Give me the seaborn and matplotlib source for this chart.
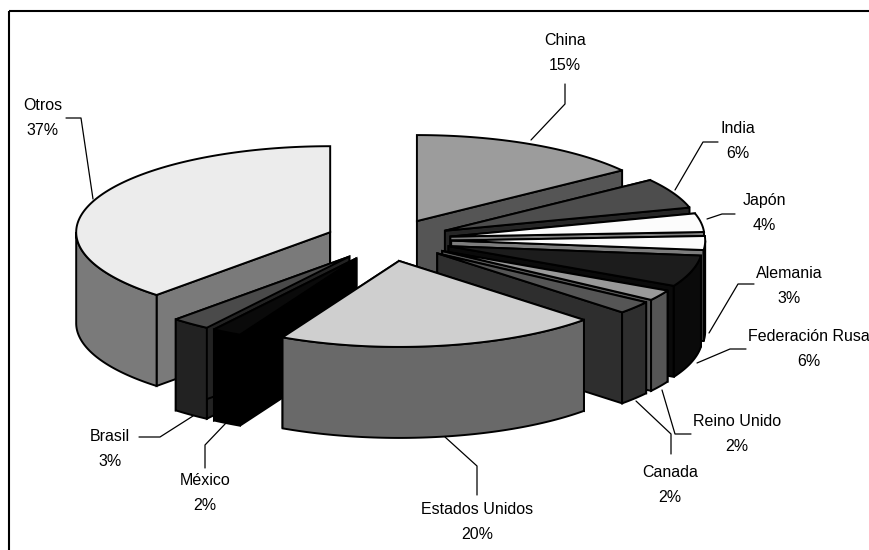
import numpy as np
import matplotlib
matplotlib.use("Agg")
import matplotlib.pyplot as plt
from matplotlib.patches import Polygon, Rectangle
import seaborn as sns

# data (clockwise from the top)
countries = ["China", "India", "Japón", "Alemania", "Federación Rusa", "Reino Unido",
             "Canada", "Estados Unidos", "México", "Brasil", "Otros"]
# percentages printed on the chart
percent_labels = [15, 6, 4, 3, 6, 2, 2, 20, 2, 3, 37]
# wedge sizes (the 3-D view skews them slightly)
wedge_shares = [15.0, 5.7, 3.5, 2.6, 5.9, 2.0, 2.4, 20.6, 1.9, 2.5, 38.1]

# styles
top_colors = ["#9c9c9c", "#4d4d4d", "#fcfcfc", "#fcfcfc", "#1c1c1c", "#999999",
              "#555555", "#cfcfcf", "#0a0a0a", "#4a4a4a", "#ececec"]
wall_colors = ["#555555", "#262626", "#7d7d7d", "#7d7d7d", "#0a0a0a", "#555555",
               "#2e2e2e", "#696969", "#000000", "#222222", "#7a7a7a"]
label_xy = [(565, 53), (738, 141), (764, 213), (789, 286), (809, 349), (737, 434),
            (670, 485), (477, 522), (205, 493), (110, 449), (43, 118)]
leaders = [[(565, 84), (565, 104), (531, 140)],
           [(718, 142), (703, 142), (675, 190)],
           [(735, 214), (722, 214), (707, 219)],
           [(754, 284), (738, 284), (709, 333)],
           [(746, 349), (730, 349), (697, 363)],
           [(691, 434), (675, 434), (662, 390)],
           [(671, 454), (671, 434), (636, 401)],
           [(477, 495), (477, 466), (445, 437)],
           [(205, 468), (205, 445), (226, 423)],
           [(139, 437), (160, 437), (193, 416)],
           [(66, 118), (81, 118), (93, 199)]]

CX, CY, RX, RY, DEPTH, EXPLODE = 388.5, 240, 254, 86, 91, 62.7

sns.set_theme(style="white", rc={"font.family": ["Liberation Sans", "DejaVu Sans"]})
fig, ax = plt.subplots(figsize=(8.7, 5.5), dpi=100)
ax.set_position([0, 0, 1, 1])
ax.set_xlim(0, 870)
ax.set_ylim(550, 0)
ax.axis("off")
ax.add_patch(Rectangle((9, 11), 900, 600, fill=False, ec="black", lw=1.5, zorder=0))

vals = np.array(wedge_shares, dtype=float)
edges = np.concatenate([[0], np.cumsum(vals)]) / vals.sum() * 2 * np.pi
mids = (edges[:-1] + edges[1:]) / 2
apex = np.c_[CX + EXPLODE * np.sin(mids), CY - EXPLODE * RY / RX * np.cos(mids)]


def rim(i, a):
    return np.c_[apex[i, 0] + RX * np.sin(a), apex[i, 1] - RY * np.cos(a)]


z = 1
LW = 1.4
for i in np.argsort(apex[:, 1]):
    a0, a1 = edges[i], edges[i + 1]
    for a in (a0, a1):
        p = rim(i, np.array([a]))[0]
        ap = apex[i]
        ax.add_patch(Polygon([ap, p, p + (0, DEPTH), ap + (0, DEPTH)], fc=wall_colors[i],
                             ec="black", lw=LW, zorder=z))
        z += 1
    lo, hi = max(a0, np.pi / 2), min(a1, 3 * np.pi / 2)
    if hi > lo:
        t = np.linspace(lo, hi, 80)
        r = rim(i, t)
        ax.add_patch(Polygon(np.r_[r, (r + (0, DEPTH))[::-1]], fc=wall_colors[i],
                             ec="black", lw=LW, zorder=z))
        z += 1
    t = np.linspace(a0, a1, 120)
    ax.add_patch(Polygon(np.r_[[apex[i]], rim(i, t)], fc=top_colors[i], ec="black",
                         lw=LW, joinstyle="miter", zorder=z))
    z += 1

for name, v, (x, y), pts in zip(countries, percent_labels, label_xy, leaders):
    ax.text(x, y, f"{name}\n{v}%", ha="center", va="center", fontsize=11.5, color="black",
            linespacing=1.9, zorder=z, clip_on=False)
    xs, ys = zip(*pts)
    ax.plot(xs, ys, color="black", lw=0.9, zorder=z)

fig.savefig("out.png", dpi=100)
